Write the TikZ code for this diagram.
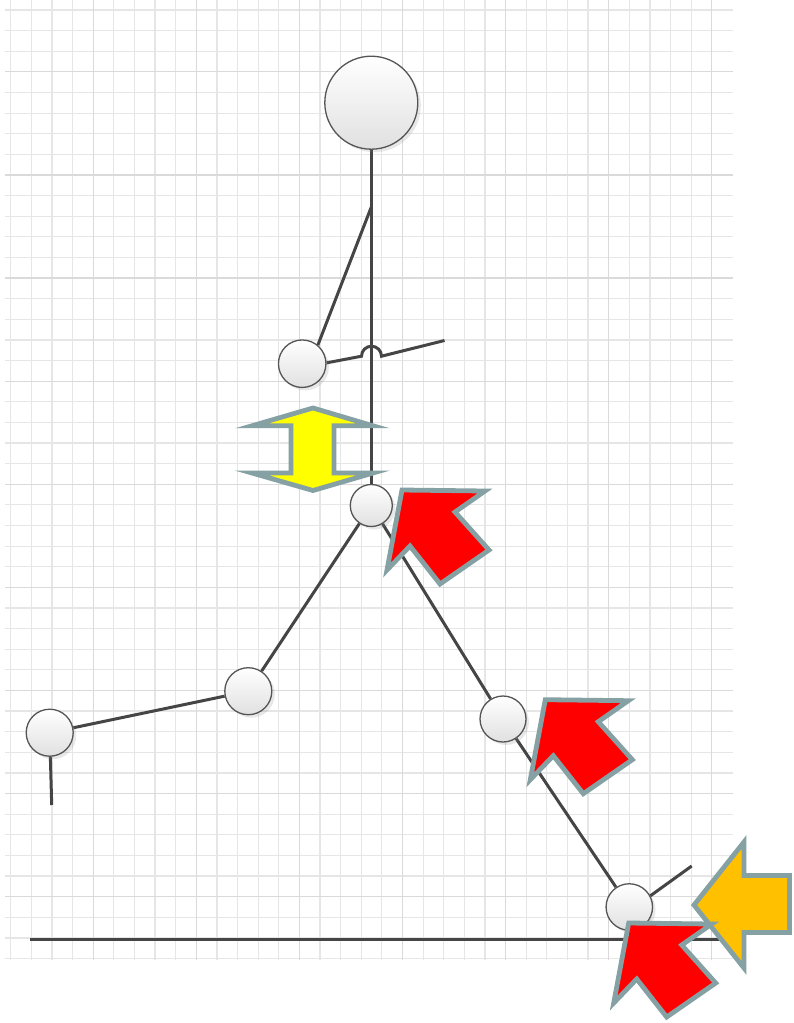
\documentclass[tikz,border=0pt]{standalone}
\usetikzlibrary{shadows}
\definecolor{gridminor}{HTML}{E6E6E6}
\definecolor{gridmajor}{HTML}{DADADA}
\definecolor{limbcol}{HTML}{454545}
\definecolor{jointborder}{HTML}{555555}
\definecolor{arrowedge}{HTML}{86A1A4}
\definecolor{arrred}{HTML}{FF0000}
\definecolor{arryellow}{HTML}{FFFF00}
\definecolor{arrorange}{HTML}{FFC000}
\pgfdeclarelayer{gridlayer}
\pgfdeclarelayer{limblayer}
\pgfsetlayers{gridlayer,limblayer,main}
\tikzset{
  gminor/.style={draw=gridminor, line width=1.2pt},
  gmajor/.style={draw=gridmajor, line width=1.2pt},
  joint/.style={circle, inner sep=0pt, draw=jointborder, line width=1.3pt,
    top color=white, bottom color=black!12,
    drop shadow={opacity=0.18, shadow xshift=3pt, shadow yshift=-3pt}},
  limb/.style={draw=limbcol, line width=3pt},
  groundline/.style={draw=limbcol, line width=3pt},
  blockarrow/.style={draw=arrowedge, line width=4.8pt, line join=miter, miter limit=10},
}
\begin{document}
\begin{tikzpicture}[x=1pt, y=-1pt]
\useasboundingbox (0,0) rectangle (793,1023);
\begin{pgfonlayer}{gridlayer}
\fill[white] (0,0) rectangle (793,1023);
\foreach \k in {0,...,34} {
  \pgfmathsetmacro\xx{10.7+20.62*\k}
  \draw[gminor] (\xx,0) -- (\xx,960);
}
\foreach \k in {0,...,46} {
  \pgfmathsetmacro\yy{10+20.62*\k}
  \draw[gminor] (5,\yy) -- (732.7,\yy);
}
\foreach \k in {4,9,...,34} {
  \pgfmathsetmacro\xx{10.7+20.62*\k}
  \draw[gmajor] (\xx,0) -- (\xx,960);
}
\foreach \k in {3,8,...,43} {
  \pgfmathsetmacro\yy{10+20.62*\k}
  \draw[gmajor] (5,\yy) -- (732.7,\yy);
}
\end{pgfonlayer}
% joints
\node[joint, minimum size=93pt] (head) at (371.3,102.7) {};
\node[joint, minimum size=47.5pt] (elbow) at (302.2,363.7) {};
\node[joint, minimum size=42pt] (pelvis) at (371.3,505.5) {};
\node[joint, minimum size=47pt] (lknee) at (248.3,691.2) {};
\node[joint, minimum size=47pt] (lfoot) at (49.7,732.7) {};
\node[joint, minimum size=46pt] (rknee) at (503,719) {};
\node[joint, minimum size=46.5pt] (rankle) at (629.3,907) {};
\coordinate (shoulder) at (371.3,207);
\coordinate (jumpL) at (361.5,356.2);
\coordinate (hand) at (444.5,340.5);
\coordinate (ltoe) at (51.7,805);
\coordinate (rtoe) at (691.7,866);
\coordinate (gL) at (30,939);
\coordinate (gR) at (720,939);
% limbs and ground, behind joints
\begin{pgfonlayer}{limblayer}
\draw[groundline] (gL) -- (gR);
\draw[limb] (head.south) -- (pelvis.north);
\draw[limb] (shoulder) -- (elbow.50);
\draw[limb] (elbow.2) -- (jumpL) arc[start angle=180, end angle=0, radius=10pt] -- (hand);
\draw[limb] (pelvis) -- (lknee);
\draw[limb] (lknee) -- (lfoot);
\draw[limb] (lfoot) -- (ltoe);
\draw[limb] (pelvis) -- (rknee);
\draw[limb] (rknee) -- (rankle);
\draw[limb] (rankle.28) -- (rtoe);
\end{pgfonlayer}
% yellow double arrow
\draw[blockarrow, fill=arryellow] (313,408) -- (373,425.8) -- (334,425.8) -- (334,473) -- (373,473)
  -- (313,490.5) -- (252,473) -- (291,473) -- (291,425.8) -- (252,425.8) -- cycle;
% red arrows
\foreach \ax/\ay in {400/487, 543.3/696.7} {
  \draw[blockarrow, fill=arrred, shift={(\ax,\ay)}] (2,3) -- (85,4) -- (55,25) -- (89,63) -- (40,97) -- (10,59) -- (-13,83) -- cycle;
}
% orange arrow
\draw[blockarrow, fill=arrorange] (694,905) -- (744,842) -- (744,875.5) -- (789.5,875.5) -- (789.5,932.5) -- (744,932.5) -- (744,968) -- cycle;
% red arrow over orange
\draw[blockarrow, fill=arrred, shift={(626.7,920)}] (2,3) -- (85,4) -- (55,25) -- (89,63) -- (40,97) -- (10,59) -- (-13,83) -- cycle;
\end{tikzpicture}
\end{document}
